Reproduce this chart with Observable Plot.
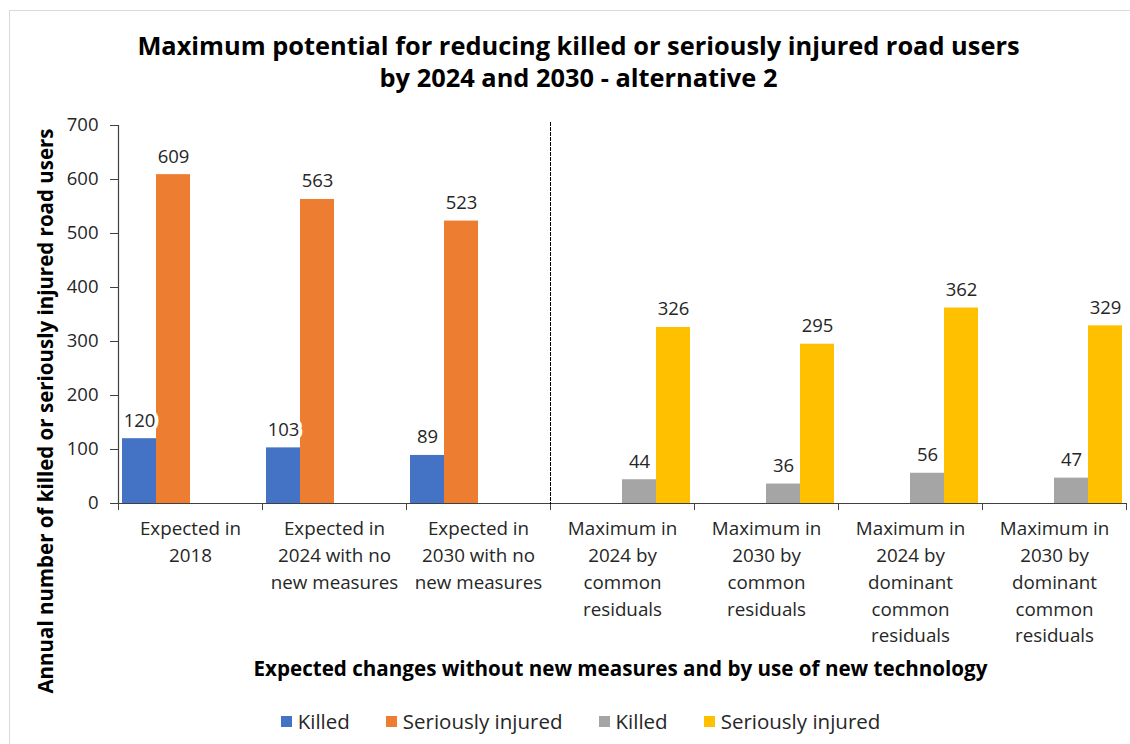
<!DOCTYPE html>
<html>
<head>
<meta charset="utf-8">
<script src="https://cdn.jsdelivr.net/npm/d3@7"></script>
<script src="https://cdn.jsdelivr.net/npm/@observablehq/plot@0.6"></script>
<style>
  body { margin: 0; background: #fff; font-family: "Open Sans", Lato, sans-serif; color: #262626; }
  #wrap { position: relative; width: 1130px; height: 744px; overflow: hidden; background: #fff; }
  #border { position: absolute; left: 9px; top: 10px; width: 1300px; height: 900px; border: 1px solid #d9d9d9; }
  .title { position: absolute; left: 0; width: 1157px; text-align: center; font-weight: bold; font-size: 25.4px; line-height: 30px; color: #000; white-space: nowrap; }
  #title1 { top: 30px; }
  #title2 { top: 62px; }
  #chart { position: absolute; left: 0; top: 100px; }
  #ytitle { position: absolute; left: 45px; top: 411px; transform: translate(-50%, -50%) rotate(-90deg); white-space: nowrap; font-weight: bold; font-size: 20.5px; color: #000; }
  #xtitle { position: absolute; left: 0; width: 1241px; top: 655px; text-align: center; font-weight: bold; font-size: 20.6px; line-height: 26px; color: #000; }
  #legend { position: absolute; left: 0; width: 1161px; top: 708px; display: flex; justify-content: center; gap: 36px; font-size: 20.5px; line-height: 26px; color: #262626; }
  .item { display: flex; align-items: center; gap: 6px; }
  .sw { width: 11px; height: 11px; display: inline-block; }
</style>
</head>
<body>
<div id="wrap">
  <div id="border"></div>
  <div class="title" id="title1">Maximum potential for reducing killed or seriously injured road users</div>
  <div class="title" id="title2">by 2024 and 2030 - alternative 2</div>
  <div id="chart"></div>
  <div id="ytitle">Annual number of killed or seriously injured road users</div>
  <div id="xtitle">Expected changes without new measures and by use of new technology</div>
  <div id="legend"></div>
</div>
<script>
// ---- data ----
const categories = [
  "Expected in\n2018",
  "Expected in\n2024 with no\nnew measures",
  "Expected in\n2030 with no\nnew measures",
  "Maximum in\n2024 by\ncommon\nresiduals",
  "Maximum in\n2030 by\ncommon\nresiduals",
  "Maximum in\n2024 by\ndominant\ncommon\nresiduals",
  "Maximum in\n2030 by\ndominant\ncommon\nresiduals"
];
const seriesKeys = ["killedExpected", "injuredExpected", "killedMaximum", "injuredMaximum"];
const seriesNames = ["Killed", "Seriously injured", "Killed", "Seriously injured"];
const seriesColors = ["#4472C4", "#ED7D31", "#A5A5A5", "#FFC000"];
const killedExpected  = [120, 103, 89, 0, 0, 0, 0];
const injuredExpected = [609, 563, 523, 0, 0, 0, 0];
const killedMaximum   = [0, 0, 0, 44, 36, 56, 47];
const injuredMaximum  = [0, 0, 0, 326, 295, 362, 329];
const yTicks = [0, 100, 200, 300, 400, 500, 600, 700];

const seriesValues = [killedExpected, injuredExpected, killedMaximum, injuredMaximum];
const rows = [];
categories.forEach((cat, i) => {
  seriesKeys.forEach((key, j) => {
    rows.push({cat, key, value: seriesValues[j][i]});
  });
});

// ---- layout ----
const W = 1130, H = 560, mt = 25, mb = 157, ml = 117, mr = 4;
const plotH = H - mt - mb;
const ink = "#262626";
const font = "'Open Sans', Lato, sans-serif";

const chart = Plot.plot({
  width: W, height: H,
  marginTop: mt, marginBottom: mb, marginLeft: ml, marginRight: mr,
  style: {fontFamily: font, fontSize: "18px", color: ink, background: "transparent", overflow: "visible"},
  fx: {domain: categories, padding: 0, label: null},
  x: {domain: seriesKeys, paddingInner: 0, paddingOuter: 0.08, axis: null},
  y: {domain: [0, 700], label: null},
  color: {domain: seriesKeys, range: seriesColors},
  marks: [
    Plot.barY(rows, {fx: "cat", x: "key", y: "value", fill: "key"}),
    Plot.ruleY([0], {stroke: "#404040", strokeWidth: 1.2}),
    Plot.frame({anchor: "left", facetAnchor: "left", stroke: "#404040", strokeWidth: 1.2}),
    Plot.frame({anchor: "left", stroke: "#404040", insetTop: plotH, insetBottom: -6}),
    Plot.frame({anchor: "right", facetAnchor: "right", stroke: "#404040", insetTop: plotH, insetBottom: -6}),
    Plot.frame({anchor: "left", fx: [categories[3]], stroke: "#000", strokeDasharray: "3,2", insetTop: -3}),
    Plot.axisY({ticks: yTicks, tickSize: 8, tickPadding: 12, fontSize: 18.5, fill: ink, stroke: "#404040", label: null}),
    Plot.axisFx({anchor: "bottom", tickSize: 0, tickPadding: 13, lineHeight: 1.42, fontSize: 18.8, fill: ink, label: null}),
    Plot.text(rows.filter(d => d.value > 0), {
      fx: "cat", x: "key", y: "value", text: d => String(d.value),
      dy: -12, lineAnchor: "bottom", fontSize: 18.5, fill: ink,
      stroke: "white", strokeWidth: 8
    })
  ]
});
document.getElementById("chart").appendChild(chart);

// ---- legend ----
const legend = document.getElementById("legend");
seriesNames.forEach((name, i) => {
  const item = document.createElement("div");
  item.className = "item";
  const sw = document.createElement("span");
  sw.className = "sw";
  sw.style.background = seriesColors[i];
  const t = document.createElement("span");
  t.textContent = name;
  item.appendChild(sw);
  item.appendChild(t);
  legend.appendChild(item);
});
</script>
</body>
</html>
